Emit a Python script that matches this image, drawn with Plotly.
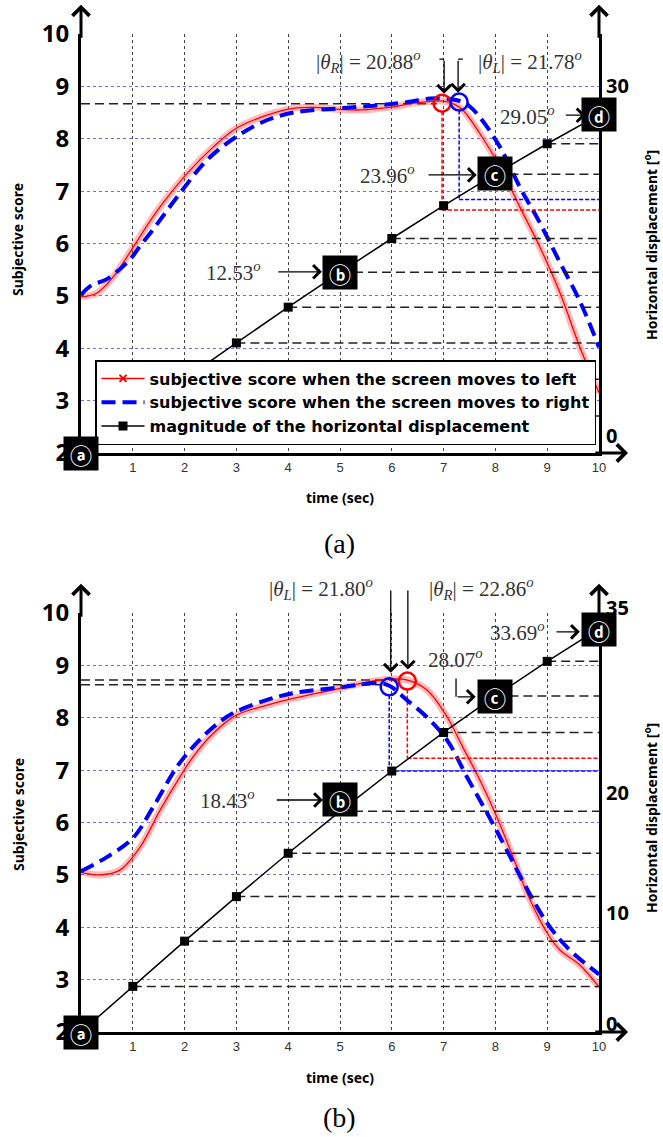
import plotly.graph_objects as go

# ---------------- data ----------------
time_ticks = [1, 2, 3, 4, 5, 6, 7, 8, 9, 10]
score_ticks = [2, 3, 4, 5, 6, 7, 8, 9, 10]

# horizontal displacement (deg) at each second
t_disp = [0, 1, 2, 3, 4, 5, 6, 7, 8, 9, 10]
disp_a = [0, 3.18, 6.34, 9.46, 12.53, 15.52, 18.43, 21.25, 23.96, 26.57, 29.05]
disp_b = [0, 3.81, 7.59, 11.31, 14.93, 18.43, 21.80, 25.02, 28.07, 30.96, 33.69]

# panel (a) subjective scores
red_a_t = [0, 0.3, 0.62, 1.04, 1.3, 1.58, 2.05, 2.55, 3.0, 3.59, 4.1, 4.5, 5.0, 5.4, 5.77,
           6.1, 6.41, 6.7, 6.99, 7.2, 7.37, 7.7, 8.09, 8.47, 8.86, 9.25, 9.63, 10.0]
red_a_s = [4.98, 5.05, 5.36, 5.98, 6.38, 6.77, 7.34, 7.84, 8.2, 8.45, 8.58, 8.6, 8.56, 8.55, 8.58,
           8.62, 8.68, 8.71, 8.72, 8.66, 8.55, 8.1, 7.46, 6.7, 5.93, 5.05, 4.02, 3.15]
blue_a_t = [0, 0.2, 0.5, 0.95, 1.14, 1.4, 1.91, 2.43, 2.94, 3.51, 4.1, 5.0, 5.77, 6.3, 6.74,
            7.1, 7.32, 7.5, 7.7, 8.09, 8.47, 8.86, 9.25, 9.63, 10.0]
blue_a_s = [5.02, 5.2, 5.32, 5.7, 5.95, 6.28, 6.96, 7.59, 8.0, 8.32, 8.5, 8.58, 8.64, 8.7, 8.77,
            8.76, 8.72, 8.62, 8.41, 7.84, 7.08, 6.39, 5.63, 4.9, 4.02]

# panel (b) subjective scores
red_b_t = [0, 0.37, 0.75, 1.14, 1.53, 1.91, 2.16, 2.55, 3.0, 3.59, 4.1, 5.0, 5.52, 6.02, 6.3,
           6.68, 7.07, 7.37, 7.7, 8.03, 8.34, 8.6, 9.0, 9.25, 9.63, 10.0]
red_b_s = [5.05, 5.0, 5.09, 5.53, 6.24, 6.87, 7.25, 7.7, 8.05, 8.24, 8.37, 8.56, 8.68, 8.74, 8.72,
           8.53, 8.01, 7.44, 6.81, 6.1, 5.34, 4.68, 3.89, 3.56, 3.28, 2.86]
blue_b_t = [0, 0.5, 1.0, 1.39, 1.85, 2.16, 2.55, 2.94, 3.59, 4.1, 5.0, 5.77, 5.97, 6.29, 6.68,
            7.07, 7.45, 7.84, 8.22, 8.6, 9.0, 9.38, 10.0]
blue_b_s = [5.07, 5.34, 5.7, 6.29, 7.06, 7.44, 7.82, 8.09, 8.34, 8.47, 8.58, 8.66, 8.6, 8.34, 8.01,
            7.57, 6.87, 6.18, 5.47, 4.75, 4.08, 3.62, 3.1]

# peaks: [red, blue]
peak_t_a = [6.97, 7.30]
peak_s_a = [8.68, 8.70]
theta_a = [20.88, 21.78]
peak_t_b = [6.30, 5.95]
peak_s_b = [8.70, 8.59]
theta_b = [22.86, 21.80]

# peak score reference lines (score, end time)
peakline_s_a = [8.67]
peakline_t_a = [6.87]
peakline_s_b = [8.72, 8.63]
peakline_t_b = [6.18, 5.80]

# indices of displacement markers with dashed guides to right axis
guide_idx_a = [1, 2, 3, 4, 5, 6, 8, 9]
guide_idx_b = [1, 2, 3, 4, 5, 7, 8, 9]

# labelled boxes
box_labels = ['ⓐ', 'ⓑ', 'ⓒ', 'ⓓ']
box_t_a = [0, 5, 8, 10]
box_d_a = [0, 15.5, 24.0, 29.05]
box_t_b = [0, 5, 8, 10]
box_d_b = [0, 19.4, 28.0, 33.6]

Y3MAX = 36.0
Y4MAX = 35.0

W, H = 663, 1137
XD = [81 / W, 599 / W]
YDA = [1 - 453 / H, 1 - 34 / H]
YDB = [1 - 1032 / H, 1 - 613 / H]

RED = '#ff0000'
BLUE = '#0000ff'
SERIF = 'Liberation Serif'
SANS = 'Noto Sans'


def to_score(d, ymax):
    return 2 + d * 8.0 / ymax


def py(pix):
    return 1 - pix / H


fig = go.Figure()


def add_panel(xa, ya, yr, ymax, disp, guide_idx, red_t, red_s, blue_t, blue_s,
              peak_t, peak_s, theta, pl_s, pl_t, legend):
    gx, gy = [], []
    for i in guide_idx:
        gx += [t_disp[i], 10, None]
        gy += [disp[i], disp[i], None]
    fig.add_trace(go.Scatter(x=gx, y=gy, xaxis=xa, yaxis=yr, mode='lines',
                             line=dict(color='#222', width=1.5, dash='9px,5px'),
                             showlegend=False, hoverinfo='skip'))
    px_, py_ = [], []
    for s, te in zip(pl_s, pl_t):
        px_ += [0, te, None]
        py_ += [s, s, None]
    fig.add_trace(go.Scatter(x=px_, y=py_, xaxis=xa, yaxis=ya, mode='lines',
                             line=dict(color='#222', width=1.5, dash='9px,5px'),
                             showlegend=False, hoverinfo='skip'))
    for k, col in enumerate([RED, BLUE]):
        fig.add_trace(go.Scatter(x=[peak_t[k], 10], y=[theta[k], theta[k]], xaxis=xa, yaxis=yr,
                                 mode='lines', line=dict(color=col, width=1.5, dash='4px,2px'),
                                 showlegend=False, hoverinfo='skip'))
        fig.add_trace(go.Scatter(x=[peak_t[k], peak_t[k]],
                                 y=[peak_s[k] - 0.16, to_score(theta[k], ymax)],
                                 xaxis=xa, yaxis=ya, mode='lines',
                                 line=dict(color=col, width=1.5, dash='4px,2px'),
                                 showlegend=False, hoverinfo='skip'))
    fig.add_trace(go.Scatter(x=red_t, y=red_s, xaxis=xa, yaxis=ya, mode='lines',
                             line=dict(color='rgba(255,60,60,0.35)', width=7, shape='spline'),
                             showlegend=False, hoverinfo='skip'))
    fig.add_trace(go.Scatter(x=red_t, y=red_s, xaxis=xa, yaxis=ya, mode='lines',
                             line=dict(color=RED, width=1.3, shape='spline'),
                             showlegend=False))
    fig.add_trace(go.Scatter(x=blue_t, y=blue_s, xaxis=xa, yaxis=ya, mode='lines',
                             line=dict(color=BLUE, width=4, dash='14px,7px', shape='spline'),
                             name='subjective score when the screen moves to right',
                             showlegend=legend, legendrank=2))
    fig.add_trace(go.Scatter(x=t_disp, y=disp, xaxis=xa, yaxis=yr, mode='lines+markers',
                             line=dict(color='black', width=1.5),
                             marker=dict(symbol='square', size=9, color='black'),
                             name='magnitude of the horizontal displacement',
                             showlegend=legend, legendrank=3))
    fig.add_trace(go.Scatter(x=peak_t, y=peak_s, xaxis=xa, yaxis=ya, mode='markers',
                             marker=dict(symbol='circle-open', size=17, color=[RED, BLUE],
                                         line=dict(width=2.5)),
                             showlegend=False, hoverinfo='skip'))


add_panel('x', 'y', 'y3', Y3MAX, disp_a, guide_idx_a, red_a_t, red_a_s, blue_a_t, blue_a_s,
          peak_t_a, peak_s_a, theta_a, peakline_s_a, peakline_t_a, True)
add_panel('x2', 'y2', 'y4', Y4MAX, disp_b, guide_idx_b, red_b_t, red_b_s, blue_b_t, blue_b_s,
          peak_t_b, peak_s_b, theta_b, peakline_s_b, peakline_t_b, False)

fig.add_trace(go.Scatter(x=[None], y=[None], xaxis='x', yaxis='y', mode='lines+markers',
                         line=dict(color=RED, width=1.5),
                         marker=dict(symbol='x-thin', size=7, line=dict(width=2, color=RED)),
                         name='subjective score when the screen moves to left',
                         showlegend=True, legendrank=1))

xcommon = dict(range=[0, 10], tickvals=time_ticks, showgrid=True, gridcolor='#444',
               griddash='dot', gridwidth=1, zeroline=False, showline=True, linecolor='black',
               linewidth=3, ticks='', automargin=False,
               tickfont=dict(family='Liberation Sans', size=13, color='#333'),
               domain=XD, fixedrange=True)
ycommon = dict(range=[2, 10], tickvals=score_ticks, showgrid=True, gridcolor='#6a6aff',
               griddash='dot', gridwidth=1, zeroline=False, showline=True, linecolor='black',
               linewidth=3, ticks='', ticklabelstandoff=4, automargin=False,
               tickfont=dict(family=SANS, size=24, color='black', weight='bold'), fixedrange=True)
y2common = dict(side='right', showgrid=False, zeroline=False, showline=True, linecolor='black',
                linewidth=3, showticklabels=False, ticks='', fixedrange=True, automargin=False)

fig.update_layout(
    width=W, height=H, margin=dict(l=0, r=0, t=0, b=0, pad=0, autoexpand=False),
    paper_bgcolor='white', plot_bgcolor='white',
    xaxis=dict(anchor='y', **xcommon),
    yaxis=dict(anchor='x', domain=YDA, **ycommon),
    xaxis2=dict(anchor='y2', **xcommon),
    yaxis2=dict(anchor='x2', domain=YDB, **ycommon),
    yaxis3=dict(overlaying='y', anchor='x', range=[0, Y3MAX], **y2common),
    yaxis4=dict(overlaying='y2', anchor='x2', range=[0, Y4MAX], **y2common),
    legend=dict(x=95 / W, y=py(360), xanchor='left', yanchor='top', bgcolor='white',
                bordercolor='black', borderwidth=1.5, itemwidth=43, traceorder='normal',
                font=dict(family='DejaVu Sans', size=16, weight='bold', color='black')),
    showlegend=True,
)

ann = []


def arrow(xr, yr, tx, ty, hx, hy, width=1.3, size=2.0, head=4):
    ann.append(dict(xref=xr, yref=yr, axref=xr, ayref=yr, x=hx, y=hy, ax=tx, ay=ty, text='',
                    showarrow=True, arrowhead=head, arrowwidth=width, arrowsize=size,
                    arrowcolor='black', standoff=0, startstandoff=0))


def stub(xr, yr, tx, ty, hx, hy):
    ann.append(dict(xref=xr, yref=yr, axref=xr, ayref=yr, x=hx, y=hy, ax=tx, ay=ty, text='',
                    showarrow=True, arrowhead=0, arrowwidth=1.3, arrowcolor='black',
                    standoff=0, startstandoff=0))


def label(xr, yr, x, y, text, anchor):
    ann.append(dict(xref=xr, yref=yr, x=x, y=y, text=text, showarrow=False, xanchor=anchor,
                    yanchor='middle', font=dict(family=SERIF, size=21, color='#333')))


def ptext(x, y, text, font, angle=0):
    ann.append(dict(xref='paper', yref='paper', x=x / W, y=py(y), text=text, textangle=angle,
                    showarrow=False, xanchor='center', yanchor='middle', font=font))


for xr, yr in [('x', 'y'), ('x2', 'y2')]:
    arrow(xr, yr, 0, 9.9, 0, 10.56, width=3, size=1.1)
    arrow(xr, yr, 10, 9.9, 10, 10.56, width=3, size=1.1)
    arrow(xr, yr, 9.9, 2, 10.56, 2, width=3, size=1.1)

# panel (a) labels
label('x', 'y', 6.60, 9.48, '|<i>θ</i><sub><i>R</i></sub>| = 20.88<sup><i>o</i></sup>', 'right')
label('x', 'y', 7.62, 9.48, '|<i>θ</i><sub><i>L</i></sub>| = 21.78<sup><i>o</i></sup>', 'left')
stub('x', 'y', 6.89, 9.52, 7.01, 9.52)
arrow('x', 'y', 7.01, 9.52, 7.01, 8.86)
stub('x', 'y', 7.40, 9.52, 7.28, 9.52)
arrow('x', 'y', 7.28, 9.52, 7.28, 8.88)
label('x', 'y', 9.19, 8.45, '29.05<sup><i>o</i></sup>', 'right')
arrow('x', 'y', 9.33, 8.45, 9.74, 8.45)
label('x', 'y', 6.49, 7.31, '23.96<sup><i>o</i></sup>', 'right')
arrow('x', 'y', 6.68, 7.31, 7.64, 7.31)
label('x', 'y', 3.51, 5.46, '12.53<sup><i>o</i></sup>', 'right')
arrow('x', 'y', 3.78, 5.46, 4.65, 5.46)

# panel (b) labels (top ones above the axis range -> paper y)
label('x2', 'paper', 5.68, py(588), '|<i>θ</i><sub><i>L</i></sub>| = 21.80<sup><i>o</i></sup>', 'right')
label('x2', 'paper', 6.68, py(588), '|<i>θ</i><sub><i>R</i></sub>| = 22.86<sup><i>o</i></sup>', 'left')
stub('x2', 'y2', 5.81, 10.46, 5.98, 10.46)
arrow('x2', 'y2', 5.98, 10.46, 5.98, 8.86)
stub('x2', 'y2', 6.45, 10.46, 6.31, 10.46)
arrow('x2', 'y2', 6.31, 10.46, 6.31, 8.92)
label('x2', 'y2', 9.0, 9.64, '33.69<sup><i>o</i></sup>', 'right')
arrow('x2', 'y2', 9.15, 9.64, 9.63, 9.64)
label('x2', 'y2', 7.8, 9.14, '28.07<sup><i>o</i></sup>', 'right')
stub('x2', 'y2', 7.24, 8.78, 7.24, 8.40)
arrow('x2', 'y2', 7.24, 8.40, 7.62, 8.40)
label('x2', 'y2', 3.40, 6.43, '18.43<sup><i>o</i></sup>', 'right')
arrow('x2', 'y2', 3.75, 6.43, 4.67, 6.43)

for yr, bt, bd in [('y3', box_t_a, box_d_a), ('y4', box_t_b, box_d_b)]:
    xr = 'x' if yr == 'y3' else 'x2'
    for lab, t, d in zip(box_labels, bt, bd):
        ann.append(dict(xref=xr, yref=yr, x=t, y=d, text=lab, showarrow=False,
                        xanchor='center', yanchor='middle',
                        bgcolor='black', width=32, height=31, borderpad=1, valign='middle',
                        font=dict(family='Noto Sans CJK KR', size=22, color='white', weight='bold')))

rfont = dict(family=SANS, size=20, color='black', weight='bold')
for yr, val, sh in [('y3', 30, 18), ('y3', 0, 18), ('y4', 35, 6), ('y4', 20, 0), ('y4', 10, 0), ('y4', 0, 9)]:
    ann.append(dict(xref='paper', yref=yr, x=604 / W, y=val, yshift=sh, text=str(val),
                    showarrow=False, xanchor='left', yanchor='middle', font=rfont))

tfont = dict(family=SANS, size=14, color='black', weight='bold')
for yc in [240, 815]:
    ptext(18, yc, 'Subjective score', tfont, -90)
for yc in [245, 818]:
    ptext(651, yc, 'Horizontal displacement [<sup>o</sup>]', tfont, -90)
for yc in [498, 1077]:
    ptext(340, yc, 'time (sec)', tfont)
for yc, cap in [(543, '(a)'), (1117, '(b)')]:
    ptext(340, yc, cap, dict(family=SERIF, size=28, color='black'))

fig.update_layout(annotations=ann)

fig.write_html('out.html')
